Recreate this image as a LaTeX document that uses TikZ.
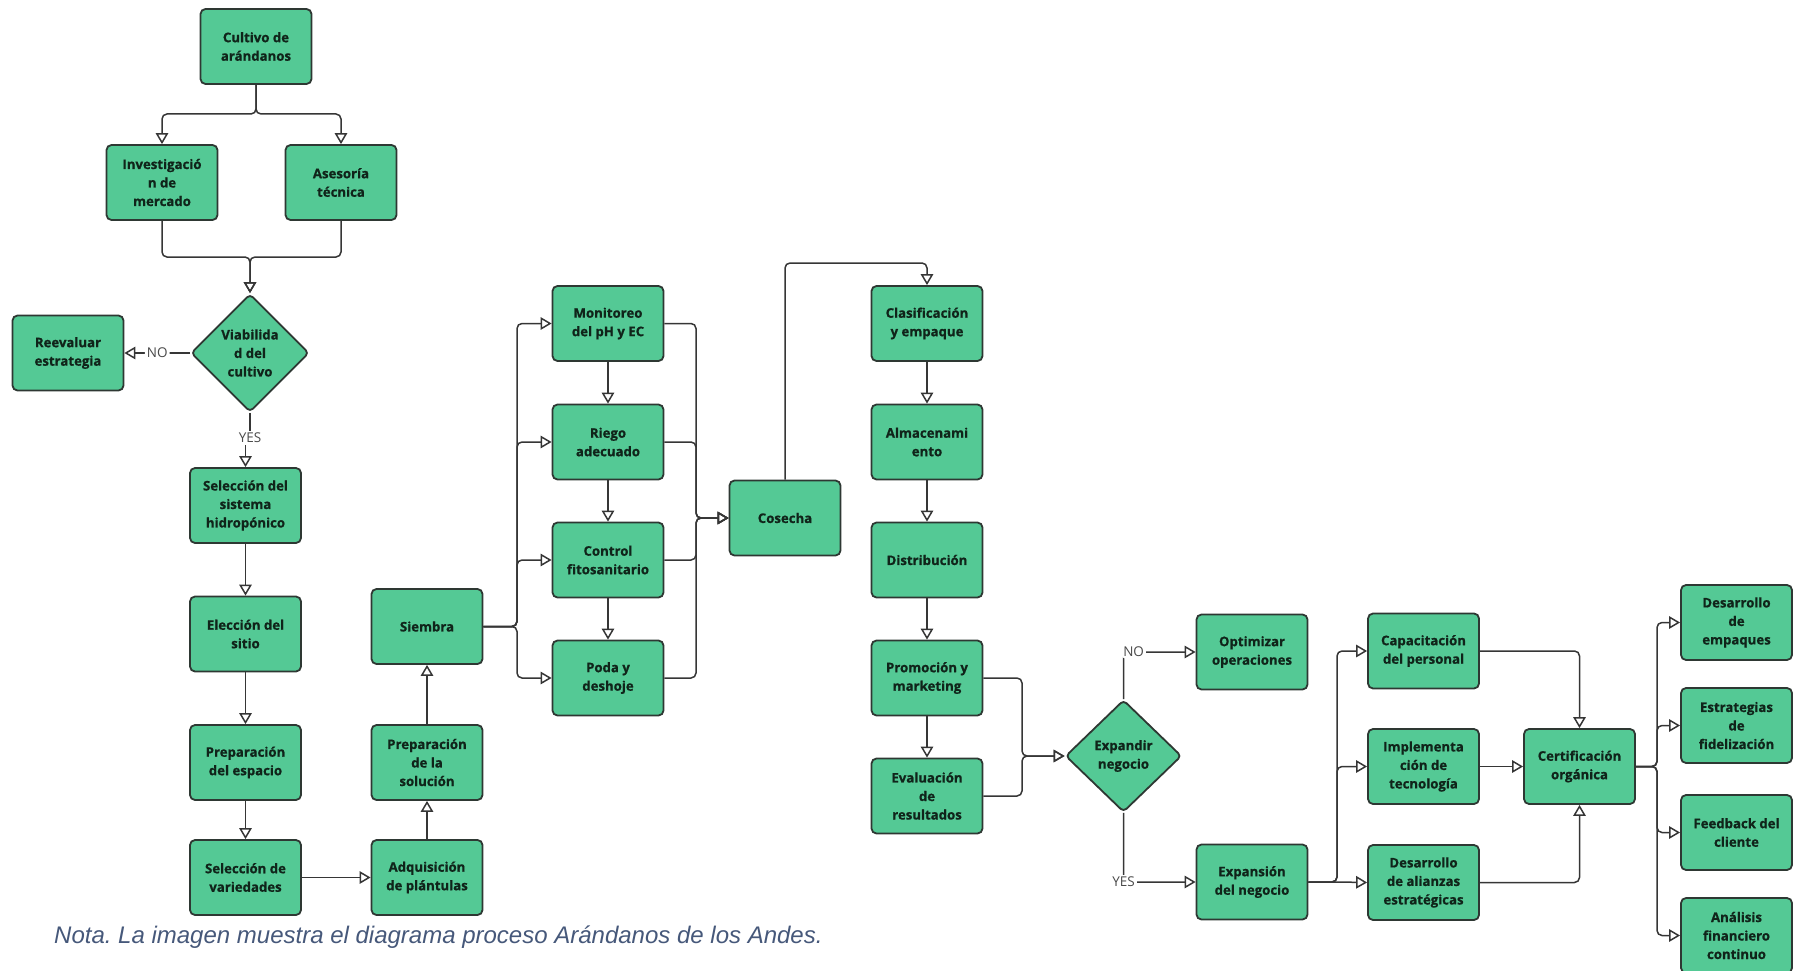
\documentclass[tikz,border=0pt]{standalone}
\usepackage{fontspec}
\setmainfont{Open Sans}
\newfontfamily\boxfont{Open Sans}[BoldFeatures={FakeBold=0.8}]
\newfontfamily\capfont{Liberation Sans}
\usetikzlibrary{arrows.meta,shapes.geometric}

\definecolor{boxfill}{HTML}{54C995}
\definecolor{boxline}{HTML}{2E3833}
\definecolor{boxtext}{HTML}{10241A}
\definecolor{wire}{HTML}{363636}
\definecolor{note}{HTML}{46587A}
\definecolor{labtext}{HTML}{4A4A4A}

\tikzset{
  procbox/.style={draw=boxline, line width=1.8pt, fill=boxfill, rounded corners=5pt,
    minimum width=111pt, minimum height=75pt, inner sep=0pt, align=center,
    text=boxtext, font=\boxfont\fontsize{13.2}{18.5}\selectfont\bfseries},
  decision/.style={procbox, shape=diamond, rounded corners=4pt},
  wireline/.style={draw=wire, line width=1.5pt, rounded corners=5pt},
  arr/.style={wireline, -{Triangle[open, length=11pt, width=12.5pt, line width=1.5pt]}},
  lab/.style={fill=white, inner sep=2pt, text=labtext, font=\fontsize{13.5}{15}\selectfont},
}

\begin{document}
\begin{tikzpicture}[x=1pt, y=-1pt]
\useasboundingbox (0,0) rectangle (1799,971);

% ---- planning stage ----
\node[procbox] (cult) at (256,46.5) {Cultivo de\\arándanos};
\node[procbox] (inv)  at (162,182.5) {Investigació\\n de\\mercado};
\node[procbox] (ase)  at (341,182.5) {Asesoría\\técnica};
\node[decision, minimum width=118pt, minimum height=118pt] (via) at (250,353) {Viabilida\\d del\\cultivo};
\node[procbox] (reev) at (68,353) {Reevaluar\\estrategia};

% ---- site preparation ----
\node[procbox] (sis)   at (245.5,505.5) {Selección del\\sistema\\hidropónico};
\node[procbox] (sitio) at (245.5,634) {Elección del\\sitio};
\node[procbox] (esp)   at (245.5,762.5) {Preparación\\del espacio};
\node[procbox] (var)   at (245.5,877.5) {Selección de\\variedades};
\node[procbox] (adq)   at (427,877.5) {Adquisición\\de plántulas};
\node[procbox] (sol)   at (427,762.5) {Preparación\\de la\\solución};
\node[procbox] (siem)  at (427,626.5) {Siembra};

% ---- crop care ----
\node[procbox] (mon)  at (608,323.5) {Monitoreo\\del pH y EC};
\node[procbox] (rie)  at (608,442) {Riego\\adecuado};
\node[procbox] (con)  at (608,560) {Control\\fitosanitario};
\node[procbox] (poda) at (608,678) {Poda y\\deshoje};
\node[procbox] (cos)  at (785,518) {Cosecha};

% ---- post-harvest ----
\node[procbox] (cla)  at (927,323.5) {Clasificación\\y empaque};
\node[procbox] (alm)  at (927,442) {Almacenami\\ento};
\node[procbox] (dist) at (927,560) {Distribución};
\node[procbox] (prom) at (927,678) {Promoción y\\marketing};
\node[procbox] (eval) at (927,796) {Evaluación\\de\\resultados};

% ---- growth ----
\node[decision, minimum width=116pt, minimum height=112pt] (exd) at (1123.5,756) {Expandir\\negocio};
\node[procbox] (opt)  at (1252,652) {Optimizar\\operaciones};
\node[procbox] (expn) at (1252,882) {Expansión\\del negocio};
\node[procbox] (cap)  at (1423.5,651) {Capacitación\\del personal};
\node[procbox] (imp)  at (1423.5,766.5) {Implementa\\ción de\\tecnología};
\node[procbox] (ali)  at (1423.5,882.5) {Desarrollo\\de alianzas\\estratégicas};
\node[procbox] (cert) at (1579.5,766.5) {Certificación\\orgánica};
\node[procbox] (emp)  at (1736.5,622.5) {Desarrollo\\de\\empaques};
\node[procbox] (fid)  at (1736.5,725.5) {Estrategias\\de\\fidelización};
\node[procbox] (feed) at (1736.5,832.5) {Feedback del\\cliente};
\node[procbox] (ana)  at (1736.5,935.5) {Análisis\\financiero\\continuo};

% ---- junction points ----
\coordinate (split) at (256,114);
\coordinate (join)  at (250,257);
\coordinate (busA)  at (517,626.5);
\coordinate (busB)  at (696,518);
\coordinate (lift)  at (785,263);
\coordinate (busC)  at (1022,756);
\coordinate (busD)  at (1337,882);
\coordinate (busE)  at (1657,766.5);

% ---- connectors ----
\draw[arr] (cult.south) -- (split) -| (inv.north);
\draw[arr] (cult.south) -- (split) -| (ase.north);
\draw[arr] (inv.south) |- (join) -- (via.north);
\draw[arr] (ase.south) |- (join) -- (via.north);
\draw[arr] (via.west) -- node[lab]{NO} (reev.east);
\node[lab] (yes) at (250,438) {YES};
\draw[wireline] (via.south) -- (yes.north);
\draw[arr] (yes.south -| sis.north) -- (sis.north);

\draw[arr] (sis) -- (sitio);
\draw[arr] (sitio) -- (esp);
\draw[arr] (esp) -- (var);
\draw[arr] (var) -- (adq);
\draw[arr] (adq) -- (sol);
\draw[arr] (sol) -- (siem);

\draw[arr] (siem.east) -- (busA) |- (mon.west);
\draw[arr] (siem.east) -- (busA) |- (rie.west);
\draw[arr] (siem.east) -- (busA) |- (con.west);
\draw[arr] (siem.east) -- (busA) |- (poda.west);
\draw[arr] (mon) -- (rie);
\draw[arr] (rie) -- (con);
\draw[arr] (con) -- (poda);
\draw[arr] (mon.east) -| (busB) -- (cos.west);
\draw[arr] (rie.east) -| (busB) -- (cos.west);
\draw[arr] (con.east) -| (busB) -- (cos.west);
\draw[arr] (poda.east) -| (busB) -- (cos.west);

\draw[arr] (cos.north) -- (lift) -| (cla.north);
\draw[arr] (cla) -- (alm);
\draw[arr] (alm) -- (dist);
\draw[arr] (dist) -- (prom);
\draw[arr] (prom) -- (eval);
\draw[arr] (prom.east) -| (busC) -- (exd.west);
\draw[arr] (eval.east) -| (busC) -- (exd.west);

\draw[arr] (exd.north) |- node[lab, anchor=west, xshift=-3pt]{NO} (opt.west);
\draw[arr] (exd.south) |- node[lab]{YES} (expn.west);

\draw[arr] (expn.east) -- (busD) |- (cap.west);
\draw[arr] (expn.east) -- (busD) |- (imp.west);
\draw[arr] (expn.east) -- (busD) -- (ali.west);
\draw[arr] (cap.east) -| (cert.north);
\draw[arr] (imp.east) -- (cert.west);
\draw[arr] (ali.east) -| (cert.south);

\draw[arr] (cert.east) -- (busE) |- (emp.west);
\draw[arr] (cert.east) -- (busE) |- (fid.west);
\draw[arr] (cert.east) -- (busE) |- (feed.west);
\draw[arr] (cert.east) -- (busE) |- (ana.west);

% ---- caption ----
\node[anchor=west, inner sep=0pt, text=note, font=\capfont\itshape\fontsize{24}{28}\selectfont] (nota) at (54,937)
  {Nota.\ La imagen muestra el diagrama proceso Arándanos de los Andes.};
\end{tikzpicture}
\end{document}
